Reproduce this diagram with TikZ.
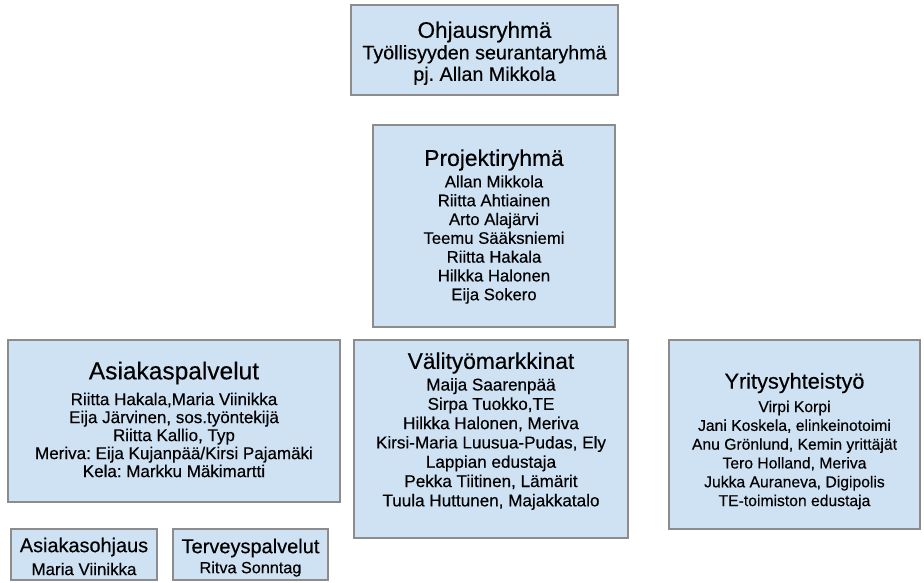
\documentclass[tikz,border=0pt]{standalone}
\usepackage{fontspec}
\setmainfont{Liberation Sans}[FakeBold=0.35]
\definecolor{boxblue}{HTML}{CFE2F3}
\definecolor{boxgray}{HTML}{8C8C8C}
\frenchspacing
\begin{document}
\frenchspacing
\begin{tikzpicture}[x=1pt,y=-1pt,
  box/.style={draw=boxgray, fill=boxblue, line width=1.2pt, inner sep=0pt},
  ttl/.style={inner sep=0pt, align=center},
  body/.style={inner sep=0pt, align=center}]
\useasboundingbox (0,0) rectangle (924,582);

% boxes
\node[box, minimum width=267pt, minimum height=90pt]  (ohj)  at (484.5,50)  {};
\node[box, minimum width=242pt, minimum height=202pt] (proj) at (494,226)   {};
\node[box, minimum width=332pt, minimum height=162pt] (asi)  at (174,421)   {};
\node[box, minimum width=274pt, minimum height=198pt] (vali) at (491,439)   {};
\node[box, minimum width=251pt, minimum height=189pt] (yri)  at (794.5,434.5) {};
\node[box, minimum width=146pt, minimum height=51pt]  (aoh)  at (84,554.5)  {};
\node[box, minimum width=155pt, minimum height=51pt]  (ter)  at (250.5,554.5) {};

% Ohjausryhmä
\node[ttl, font=\fontsize{22.5}{24}\selectfont] (ohjT) at (484.5,32) {Ohjausryhmä};
\node[body, font=\fontsize{19.7}{21.5}\selectfont] (ohjB) at (484.5,65) {Työllisyyden seurantaryhmä\\pj. Allan Mikkola};

% Projektiryhmä
\node[ttl, font=\fontsize{22.8}{24}\selectfont] (projT) at (494,160) {Projektiryhmä};
\node[body, font=\fontsize{16.7}{18.8}\selectfont] (projB) at (494,239.5)
  {Allan Mikkola\\Riitta Ahtiainen\\Arto Alajärvi\\Teemu Sääksniemi\\Riitta Hakala\\Hilkka Halonen\\Eija Sokero};

% Asiakaspalvelut
\node[ttl, font=\fontsize{24.5}{26}\selectfont] (asiT) at (174,373) {Asiakaspalvelut};
\node[body, font=\fontsize{17}{18}\selectfont] (asiB) at (174,435)
  {Riitta Hakala,Maria Viinikka\\Eija Järvinen, sos.työntekijä\\Riitta Kallio, Typ\\Meriva: Eija Kujanpää/Kirsi Pajamäki\\Kela: Markku Mäkimartti};

% Välityömarkkinat
\node[ttl, font=\fontsize{22.7}{24}\selectfont] (valiT) at (491,363) {Välityömarkkinat};
\node[body, font=\fontsize{17.1}{19.3}\selectfont] (valiB) at (491,444)
  {Maija Saarenpää\\Sirpa Tuokko,TE\\Hilkka Halonen, Meriva\\Kirsi-Maria Luusua-Pudas, Ely\\Lappian edustaja\\Pekka Tiitinen, Lämärit\\Tuula Huttunen, Majakkatalo};

% Yritysyhteistyö
\node[ttl, font=\fontsize{21.7}{23}\selectfont] (yriT) at (794.5,383) {Yritysyhteistyö};
\node[body, font=\fontsize{15.7}{18.8}\selectfont] (yriB) at (794.5,455)
  {Virpi Korpi\\Jani Koskela, elinkeinotoimi\\Anu Grönlund, Kemin yrittäjät\\Tero Holland, Meriva\\Jukka Auraneva, Digipolis\\TE-toimiston edustaja};

% Asiakasohjaus
\node[ttl, font=\fontsize{19.9}{21}\selectfont] (aohT) at (84,547) {Asiakasohjaus};
\node[body, font=\fontsize{16.9}{18}\selectfont] (aohB) at (84,569) {Maria Viinikka};

% Terveyspalvelut
\node[ttl, font=\fontsize{20}{21}\selectfont] (terT) at (250.5,548) {Terveyspalvelut};
\node[body, font=\fontsize{16.2}{18}\selectfont] (terB) at (250.5,569) {Ritva Sonntag};
\end{tikzpicture}
\end{document}
